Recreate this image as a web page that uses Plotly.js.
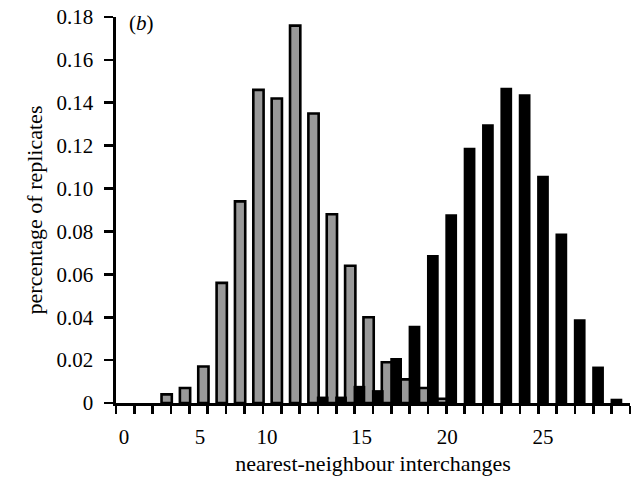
<!DOCTYPE html>
<html>
<head>
<meta charset="utf-8">
<script src="https://cdn.plot.ly/plotly-3.0.1.min.js"></script>
<style>html,body{margin:0;padding:0;background:#fff;}#chart{width:639px;height:481px;}</style>
</head>
<body>
<div id="chart"></div>
<script>
// category slots along the x axis (one slot per tick interval)
const graySlots  = [2,3,4,5,6,7,8,9,10,11,12,13,14,15,16,17];
const grayValues = [0.004,0.007,0.017,0.056,0.094,0.146,0.142,0.176,0.135,0.088,0.064,0.040,0.019,0.011,0.007,0.002];
const blackSlots  = [11,12,13,14,15,16,17,18,19,20,21,22,23,24,25,26,27];
const blackValues = [0.003,0.003,0.008,0.006,0.021,0.036,0.069,0.088,0.119,0.130,0.147,0.144,0.106,0.079,0.039,0.017,0.002];
const xTickPos   = [-0.07,4.07,7.73,12.87,17.54,22.76];
const xTickText  = ["0","5","10","15","20","25"];
const yTickVals  = [0,0.02,0.04,0.06,0.08,0.10,0.12,0.14,0.16,0.18];
const yTickText  = ["0","0.02","0.04","0.06","0.08","0.10","0.12","0.14","0.16","0.18"];
const slotEdges  = Array.from({length:29},(_,i)=>i-0.5);

const family = '"Liberation Serif","Times New Roman",serif';
const tickFont  = {family:family, size:21, color:'#000'};
const titleFont = {family:family, size:22, color:'#000'};

const traces = [
  {type:'bar', x:graySlots, y:grayValues, width:0.56, offset:-0.02,
   marker:{color:'#999999', line:{color:'#000', width:2.6}}, hoverinfo:'skip'},
  {type:'bar', x:blackSlots, y:blackValues, width:0.64, offset:-0.56,
   marker:{color:'#000', line:{color:'#000', width:0}}, hoverinfo:'skip'}
];

const layout = {
  width:639, height:481,
  margin:{l:116, r:9, t:17, b:78},
  paper_bgcolor:'#fff', plot_bgcolor:'#fff',
  barmode:'overlay', showlegend:false,
  font:tickFont,
  xaxis:{range:[-0.5,27.5], showgrid:false, zeroline:false,
    showline:true, linecolor:'#000', linewidth:2.6,
    tickmode:'array', tickvals:xTickPos, ticktext:xTickText,
    ticks:'outside', ticklen:8, tickcolor:'rgba(0,0,0,0)', tickwidth:2,
    ticklabelstandoff:5,
    minor:{tickmode:'array', tickvals:slotEdges, ticks:'outside', ticklen:8, tickwidth:2.6, tickcolor:'#000', showgrid:false},
    tickfont:tickFont,
    title:{text:'nearest-neighbour interchanges', font:titleFont, standoff:8}},
  yaxis:{range:[0,0.18], showgrid:false, zeroline:false,
    showline:true, linecolor:'#000', linewidth:2.6,
    tickmode:'array', tickvals:yTickVals, ticktext:yTickText,
    ticks:'outside', ticklen:9, tickwidth:2.6, tickcolor:'#000',
    ticklabelstandoff:7, tickfont:tickFont,
    title:{text:'percentage of replicates', font:titleFont, standoff:8}},
  annotations:[{xref:'paper', yref:'paper', x:0.022, y:0.985, xanchor:'left', yanchor:'middle',
    text:'(<i>b</i>)', showarrow:false, font:{family:family, size:21, color:'#000'}}]
};

Plotly.newPlot('chart', traces, layout, {staticPlot:true, displayModeBar:false});
</script>
</body>
</html>
